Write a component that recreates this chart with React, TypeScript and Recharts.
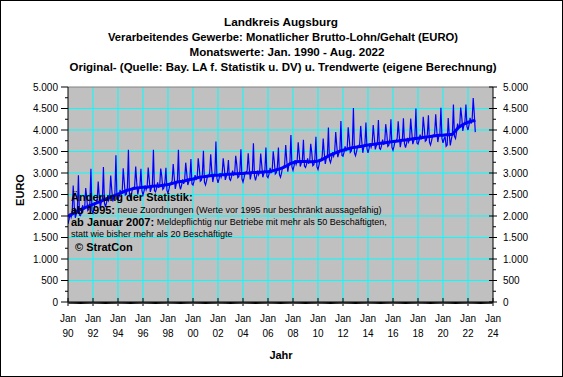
import React from 'react';
import { LineChart, Line, XAxis, YAxis, ReferenceLine, ReferenceArea } from 'recharts';

// Monthly original values (EURO), Jan..Dec, 1990..2022 (2022: Jan..Aug)
const original1990s: number[][] = [
  [1820, 1920, 2060, 1970, 2060, 2710, 2230, 1960, 2050, 2140, 2950, 2020],
  [2010, 2100, 2250, 2150, 2180, 2650, 2430, 2130, 2160, 2300, 3100, 2130],
  [2070, 2170, 2310, 2310, 2370, 2800, 2450, 2190, 2330, 2370, 3140, 2300],
  [2210, 2310, 2450, 2360, 2450, 2940, 2610, 2340, 2430, 2510, 3415, 2390],
  [2370, 2460, 2610, 2510, 2540, 3110, 2790, 2490, 2510, 2660, 3540, 2490],
  [2420, 2520, 2650, 2650, 2700, 3150, 2770, 2500, 2635, 2670, 3100, 2585],
  [2490, 2580, 2710, 2610, 2690, 3125, 2840, 2560, 2645, 2720, 3540, 2585],
  [2560, 2640, 2780, 2670, 2690, 3105, 2930, 2620, 2650, 2780, 3120, 2595],
  [2530, 2630, 2760, 2760, 2820, 3210, 2890, 2630, 2760, 2800, 3540, 2715],
  [2620, 2715, 2850, 2750, 2840, 3240, 2990, 2720, 2800, 2880, 3325, 2745],
];
const original2000s: number[][] = [
  [2720, 2810, 2950, 2850, 2880, 3340, 3120, 2810, 2835, 2970, 3515, 2785],
  [2720, 2815, 2945, 2940, 2995, 3435, 3060, 2790, 2925, 2960, 3730, 2875],
  [2770, 2865, 2995, 2900, 2980, 3340, 3120, 2840, 2925, 3000, 3300, 2865],
  [2830, 2915, 3055, 2950, 2970, 3400, 3200, 2890, 2915, 3050, 3550, 2865],
  [2790, 2885, 3015, 3010, 3060, 3460, 3120, 2850, 2985, 3020, 3690, 2935],
  [2830, 2925, 3055, 2960, 3040, 3450, 3180, 2900, 2985, 3060, 3590, 2925],
  [2890, 2975, 3120, 3010, 3040, 3505, 3280, 2975, 3005, 3140, 3590, 2960],
  [2900, 3000, 3140, 3140, 3200, 3650, 3290, 3030, 3180, 3220, 3885, 3140],
  [3060, 3165, 3300, 3200, 3280, 3715, 3430, 3150, 3230, 3300, 3770, 3160],
  [3130, 3200, 3340, 3230, 3250, 3680, 3480, 3170, 3195, 3330, 3845, 3140],
];
const original2010s: number[][] = [
  [3080, 3190, 3320, 3310, 3380, 3800, 3460, 3210, 3350, 3390, 4055, 3310],
  [3240, 3345, 3480, 3390, 3480, 3950, 3640, 3370, 3460, 3540, 4210, 3410],
  [3390, 3480, 3620, 3520, 3550, 4065, 3790, 3480, 3510, 3650, 4510, 3465],
  [3400, 3500, 3625, 3620, 3670, 4095, 3740, 3470, 3610, 3650, 4175, 3565],
  [3470, 3565, 3695, 3600, 3680, 4115, 3830, 3550, 3635, 3710, 4230, 3575],
  [3550, 3635, 3775, 3670, 3690, 4135, 3930, 3620, 3645, 3780, 4250, 3595],
  [3530, 3625, 3755, 3750, 3800, 4205, 3870, 3600, 3740, 3770, 4270, 3685],
  [3590, 3685, 3815, 3720, 3800, 4265, 3950, 3670, 3755, 3830, 4500, 3695],
  [3670, 3755, 3895, 3790, 3810, 4305, 4050, 3740, 3765, 3900, 4345, 3715],
  [3650, 3745, 3875, 3870, 3920, 4365, 3990, 3720, 3860, 3890, 4515, 3805],
];
const original2020s: number[][] = [
  [3700, 3790, 3850, 3620, 3650, 4280, 3900, 3640, 3780, 3900, 4590, 3850],
  [3800, 3950, 4150, 4050, 4100, 4520, 4300, 3980, 4100, 4180, 4590, 4080],
  [4000, 4120, 4280, 4150, 4250, 4745, 4380, 3950],
];

// Trend values read quarterly (Jan, Apr, Jul, Oct), 1990..2022
const trendQuarterly: number[][] = [
  [2000, 2030, 2070, 2110], [2150, 2180, 2210, 2240], [2270, 2300, 2330, 2360],
  [2390, 2420, 2450, 2480], [2510, 2540, 2570, 2600], [2620, 2640, 2650, 2660],
  [2670, 2670, 2680, 2690], [2700, 2700, 2710, 2720], [2730, 2750, 2770, 2790],
  [2800, 2810, 2830, 2850], [2860, 2880, 2900, 2910], [2920, 2930, 2940, 2950],
  [2950, 2960, 2960, 2970], [2970, 2980, 2980, 2990], [2990, 3000, 3000, 3010],
  [3010, 3020, 3020, 3030], [3030, 3040, 3060, 3080], [3100, 3130, 3170, 3210],
  [3240, 3260, 3270, 3270], [3270, 3260, 3260, 3270], [3280, 3300, 3340, 3380],
  [3420, 3450, 3480, 3510], [3530, 3550, 3570, 3590], [3600, 3610, 3620, 3640],
  [3650, 3660, 3670, 3680], [3690, 3700, 3710, 3720], [3730, 3740, 3750, 3760],
  [3770, 3780, 3790, 3800], [3810, 3820, 3830, 3840], [3850, 3860, 3870, 3880],
  [3880, 3890, 3890, 3900], [3980, 4060, 4110, 4150], [4180, 4200, 4220],
];
const trendLastMonthIndex = 391; // Aug 2022
const trendLastValue = 4230;

const xTickYears = ['90', '92', '94', '96', '98', '00', '02', '04', '06', '08', '10', '12', '14', '16', '18', '20', '22', '24'];
const yTicks = [0, 250, 500, 750, 1000, 1250, 1500, 1750, 2000, 2250, 2500, 2750, 3000, 3250, 3500, 3750, 4000, 4250, 4500, 4750, 5000];
const yGridValues = [500, 1000, 1500, 2000, 2500, 3000, 3500, 4000, 4500];

const titleLines = [
  'Landkreis Augsburg',
  'Verarbeitendes Gewerbe: Monatlicher Brutto-Lohn/Gehalt (EURO)',
  'Monatswerte: Jan. 1990 - Aug. 2022',
  'Original- (Quelle: Bay. LA f. Statistik u. DV) u. Trendwerte (eigene Berechnung)',
];

const originalByYear = [...original1990s, ...original2000s, ...original2010s, ...original2020s];
const originalData = originalByYear.flatMap((vals, yi) => vals.map((v, m) => ({ t: yi * 12 + m, v })));
const trendData = [
  ...trendQuarterly.flatMap((vals, yi) => vals.map((v, q) => ({ t: yi * 12 + q * 3, v }))),
  { t: trendLastMonthIndex, v: trendLastValue },
];
const monthTicks = Array.from({ length: 409 }, (_, i) => i);
const xMajorTicks = xTickYears.map((_, i) => i * 24);

const FONT = "'Liberation Sans', Arial, sans-serif";

const fmt = (v: number) => (v >= 1000 ? `${Math.floor(v / 1000)}.${String(v % 1000).padStart(3, '0')}` : String(v));

const LeftTick = (p: any) => {
  const { x, y, payload } = p;
  const v = payload.value;
  const major = v % 500 === 0;
  return (
    <g>
      <line x1={x - (major ? 7 : 3)} x2={x} y1={y} y2={y} stroke="#000" strokeWidth={1} />
      {major && (
        <text x={x - 10} y={y} textAnchor="end" dominantBaseline="central" fontSize={10} fontFamily={FONT} fill="#000">
          {fmt(v)}
        </text>
      )}
    </g>
  );
};

const RightTick = (p: any) => {
  const { x, y, payload } = p;
  const v = payload.value;
  const major = v % 500 === 0;
  return (
    <g>
      <line x1={major ? x - 4 : x} x2={x + (major ? 4 : 3)} y1={y} y2={y} stroke="#000" strokeWidth={1} />
      {major && (
        <text x={x + 10} y={y} textAnchor="start" dominantBaseline="central" fontSize={10} fontFamily={FONT} fill="#000">
          {fmt(v)}
        </text>
      )}
    </g>
  );
};

const BottomTick = (p: any) => {
  const { x, y, payload } = p;
  const v = payload.value;
  const majorIdx = xMajorTicks.indexOf(v);
  if (majorIdx < 0) {
    return <line x1={x} x2={x} y1={y} y2={y + 2} stroke="#000" strokeWidth={1} />;
  }
  return (
    <g>
      <line x1={x} x2={x} y1={y - 4} y2={y + 4} stroke="#000" strokeWidth={1} />
      <text x={x} y={y + 16} textAnchor="middle" dominantBaseline="central" fontSize={10} fontFamily={FONT} fill="#000">
        Jan
      </text>
      <text x={x} y={y + 31} textAnchor="middle" dominantBaseline="central" fontSize={10} fontFamily={FONT} fill="#000">
        {xTickYears[majorIdx]}
      </text>
    </g>
  );
};

export default function App() {
  return (
    <div style={{ position: 'fixed', left: 0, top: 0, width: 563, height: 377, background: '#fff' }}>
      <LineChart width={563} height={377} margin={{ top: 87, right: 0, bottom: 0, left: 0 }}>
        <XAxis
          type="number"
          dataKey="t"
          domain={[0, 408]}
          ticks={monthTicks}
          interval={0}
          height={75}
          tickSize={0}
          tickMargin={0}
          tickLine={false}
          axisLine={{ stroke: '#000' }}
          tick={BottomTick}
          allowDataOverflow
        />
        <YAxis
          yAxisId="left"
          type="number"
          domain={[0, 5000]}
          ticks={yTicks}
          interval={0}
          width={68}
          tickSize={0}
          tickMargin={0}
          tickLine={false}
          axisLine={{ stroke: '#000' }}
          tick={LeftTick}
        />
        <YAxis
          yAxisId="right"
          orientation="right"
          type="number"
          domain={[0, 5000]}
          ticks={yTicks}
          interval={0}
          width={70}
          tickSize={0}
          tickMargin={0}
          tickLine={false}
          axisLine={{ stroke: '#000' }}
          tick={RightTick}
        />
        <ReferenceArea yAxisId="left" x1={0} x2={408} y1={0} y2={5000} fill="#C0C0C0" fillOpacity={1} stroke="none" />
        {yGridValues.map((g) => (
          <ReferenceLine key={`h${g}`} yAxisId="left" y={g} stroke="#00FFFF" strokeWidth={1} />
        ))}
        {xMajorTicks.slice(1, -1).map((g) => (
          <ReferenceLine key={`v${g}`} yAxisId="left" x={g} stroke="#00FFFF" strokeWidth={1} />
        ))}
        <ReferenceLine yAxisId="left" y={5000} stroke="#808080" strokeWidth={1} />
        <Line
          yAxisId="left"
          data={originalData}
          dataKey="v"
          type="linear"
          stroke="#0000FF"
          strokeWidth={1.2}
          dot={false}
          isAnimationActive={false}
        />
        <Line
          yAxisId="right"
          data={trendData}
          dataKey="v"
          type="linear"
          stroke="#0000FF"
          strokeWidth={3}
          dot={false}
          isAnimationActive={false}
        />
      </LineChart>
      <svg width={563} height={377} style={{ position: 'absolute', left: 0, top: 0, pointerEvents: 'none' }}>
        <g fontFamily={FONT} fill="#000">
          <text x={281} y={21.5} textAnchor="middle" dominantBaseline="central" fontWeight="bold" fontSize={11.5} textLength={114} lengthAdjust="spacingAndGlyphs">{titleLines[0]}</text>
          <text x={283} y={36.5} textAnchor="middle" dominantBaseline="central" fontWeight="bold" fontSize={11.5} textLength={350} lengthAdjust="spacingAndGlyphs">{titleLines[1]}</text>
          <text x={287} y={51.5} textAnchor="middle" dominantBaseline="central" fontWeight="bold" fontSize={11.5} textLength={195} lengthAdjust="spacingAndGlyphs">{titleLines[2]}</text>
          <text x={283} y={67} textAnchor="middle" dominantBaseline="central" fontWeight="bold" fontSize={11.5} textLength={427} lengthAdjust="spacingAndGlyphs">{titleLines[3]}</text>
          <text x={20} y={190} textAnchor="middle" dominantBaseline="central" fontWeight="bold" fontSize={11} transform="rotate(-90 20 190)">EURO</text>
          <text x={281} y={355} textAnchor="middle" dominantBaseline="central" fontWeight="bold" fontSize={11}>Jahr</text>
          <g style={{ whiteSpace: 'pre' }}>
            <text x={71} y={197} dominantBaseline="central" fontWeight="bold" fontSize={11}>Änderung der Statistik:</text>
            <text x={71} y={210} dominantBaseline="central" fontSize={9}>
              <tspan fontWeight="bold" fontSize={11}>ab 1995:</tspan>
              <tspan>{'  neue Zuordnungen (Werte vor 1995 nur beschränkt aussagefähig)'}</tspan>
            </text>
            <text x={71} y={222} dominantBaseline="central" fontSize={9}>
              <tspan fontWeight="bold" fontSize={11}>ab Januar 2007:</tspan>
              <tspan>{' Meldepflichtig nur Betriebe mit mehr als 50 Beschäftigten,'}</tspan>
            </text>
            <text x={71} y={234} dominantBaseline="central" fontSize={9}>{'statt wie bisher mehr als  20 Beschäftigte'}</text>
            <text x={75} y={246.5} dominantBaseline="central" fontWeight="bold" fontSize={11}>© StratCon</text>
          </g>
        </g>
        <rect x={0.5} y={0.5} width={562} height={376} fill="none" stroke="#000" strokeWidth={1} />
      </svg>
    </div>
  );
}
